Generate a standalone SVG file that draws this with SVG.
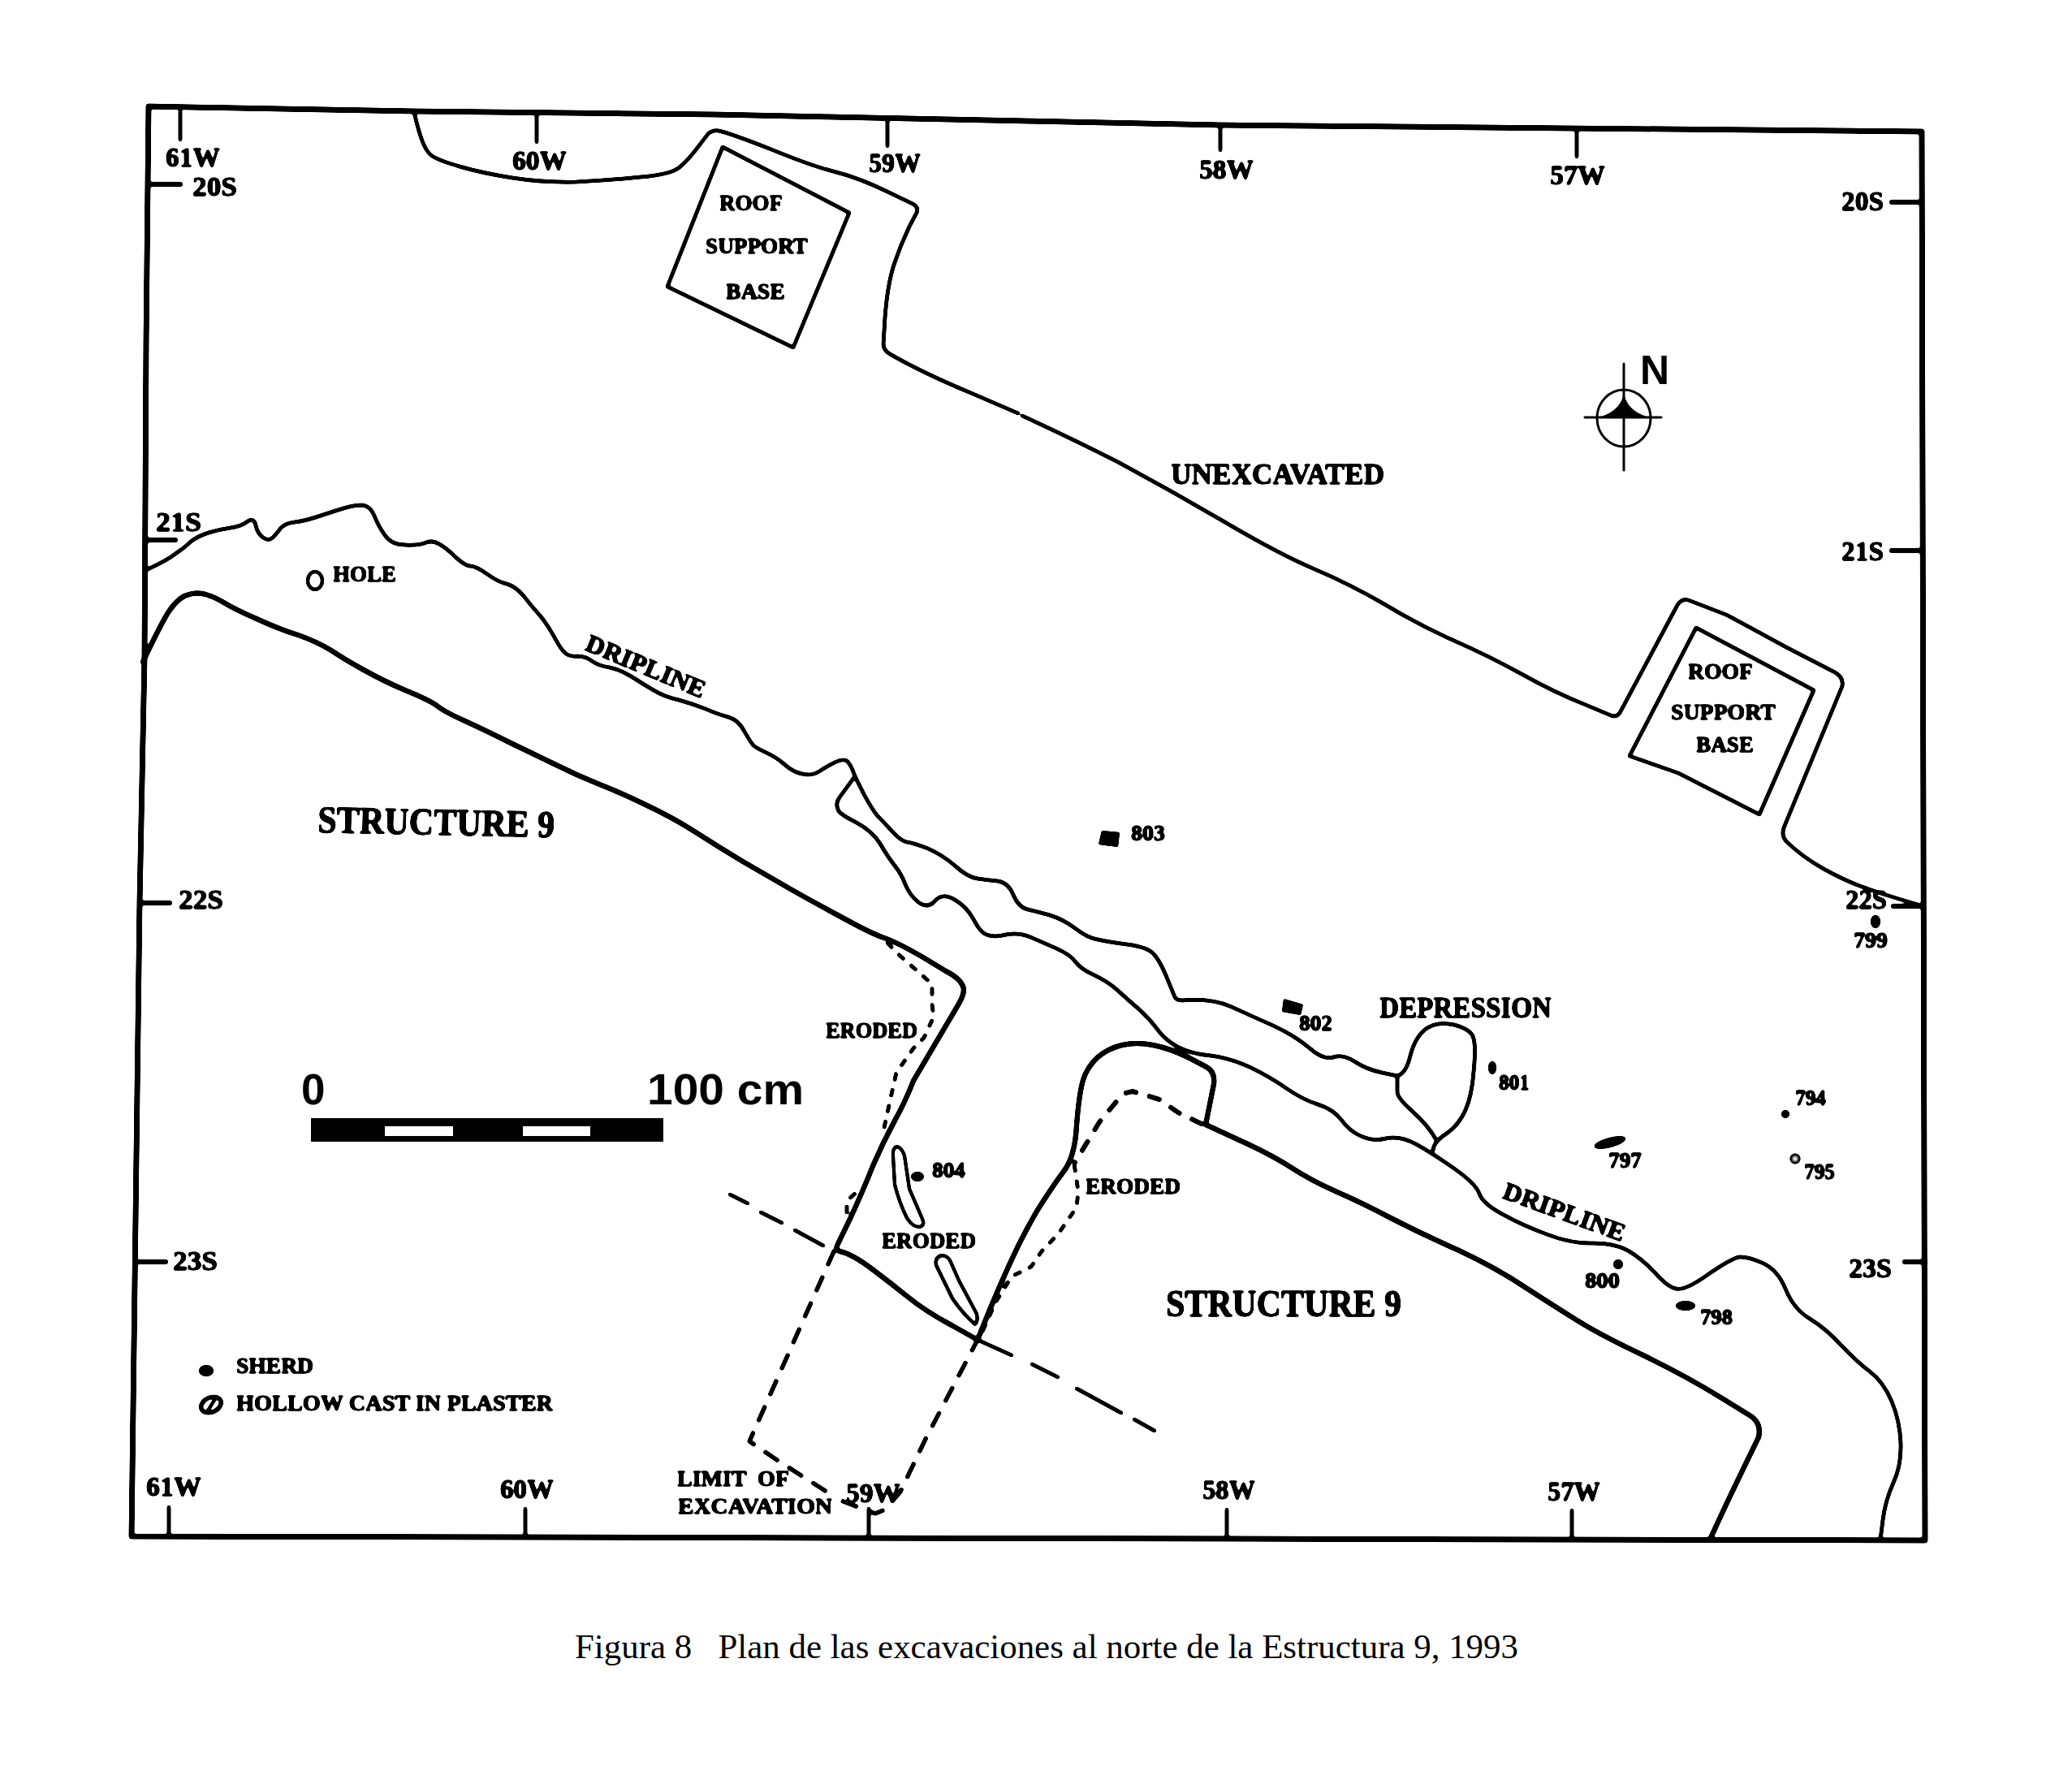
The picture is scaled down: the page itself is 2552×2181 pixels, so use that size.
<svg xmlns="http://www.w3.org/2000/svg" width="2552" height="2181" viewBox="0 0 2552 2181">
<style>
.l{fill:none;stroke:#000;stroke-linejoin:round;stroke-linecap:round}
.f{stroke-width:6.5}.t{stroke-width:6}.d{stroke-width:4.5}.k{stroke-width:4.5}
.dash{stroke-width:5;stroke-dasharray:22 13;stroke-linecap:butt}
.dash2{stroke-width:4.5;stroke-dasharray:11 9;stroke-linecap:butt}
.dash3{stroke-width:5.5;stroke-dasharray:18 12;stroke-linecap:butt}
text{font-family:"Liberation Serif",serif;font-weight:bold;fill:#000;stroke:#000;stroke-width:.9}
.g{font-size:34px}.s{font-size:28px}.m{font-size:31px}.n{font-size:27px}.b{font-size:47px}
.sans{font-family:"Liberation Sans",sans-serif;stroke:none}
.cap{font-weight:normal;font-size:43px;stroke:none}
</style>
<defs>
<filter id="ink" filterUnits="userSpaceOnUse" x="0" y="0" width="2552" height="2181">
<feGaussianBlur stdDeviation="1.2"/>
<feComponentTransfer><feFuncA type="linear" slope="5" intercept="-1.6"/></feComponentTransfer>
</filter>
</defs>
<rect width="2552" height="2181" fill="#fff"/>
<g filter="url(#ink)">
<g id="frame">
<polyline class="l f" points="183,131 510,137 880,141 1503,154 2367,162 2371,1897 162,1892 172,1111 178,810 180,422 183,131"/>
<path class="l k" d="M222 137V172M661 141V175M1093 146V180M1503 155V185M1942 161V193M208 1856V1892M647 1858V1894M1070 1858V1894M1511 1859V1894M1936 1860V1896"/>
<path class="l t" d="M185 227H222M181 665H216M175 1112H209M172 1554H204M2330 249H2367M2330 678H2367M2332 1116H2369M2346 1554H2371"/>
</g>
<g id="grid-labels" class="g">
<text x="204" y="205" textLength="67" lengthAdjust="spacingAndGlyphs">61W</text>
<text x="631" y="209" textLength="67" lengthAdjust="spacingAndGlyphs">60W</text>
<text x="1070" y="212" textLength="64" lengthAdjust="spacingAndGlyphs">59W</text>
<text x="1477" y="220" textLength="67" lengthAdjust="spacingAndGlyphs">58W</text>
<text x="1909" y="227" textLength="68" lengthAdjust="spacingAndGlyphs">57W</text>
<text x="237" y="241" textLength="55" lengthAdjust="spacingAndGlyphs">20S</text>
<text x="192" y="654" textLength="56" lengthAdjust="spacingAndGlyphs">21S</text>
<text x="220" y="1119" textLength="55" lengthAdjust="spacingAndGlyphs">22S</text>
<text x="213" y="1564" textLength="55" lengthAdjust="spacingAndGlyphs">23S</text>
<text x="2268" y="259" textLength="52" lengthAdjust="spacingAndGlyphs">20S</text>
<text x="2268" y="690" textLength="52" lengthAdjust="spacingAndGlyphs">21S</text>
<text x="2273" y="1119" textLength="51" lengthAdjust="spacingAndGlyphs">22S</text>
<text x="2277" y="1573" textLength="53" lengthAdjust="spacingAndGlyphs">23S</text>
<text x="180" y="1842" textLength="68" lengthAdjust="spacingAndGlyphs">61W</text>
<text x="616" y="1845" textLength="66" lengthAdjust="spacingAndGlyphs">60W</text>
<text x="1042" y="1850" textLength="67" lengthAdjust="spacingAndGlyphs">59W</text>
<text x="1481" y="1846" textLength="65" lengthAdjust="spacingAndGlyphs">58W</text>
<text x="1906" y="1848" textLength="65" lengthAdjust="spacingAndGlyphs">57W</text>
</g>
<g id="unexcavated">
<path class="l d" d="M510 138Q516 164 521 176Q526 188 532 192Q539 197 566 205Q593 213 631 219Q669 225 710 224Q752 222 789 218Q826 215 837 206Q848 197 862 178L872 165Q877 160 885 161Q899 164 950 184Q1001 205 1030 212Q1058 219 1095 237L1124 251Q1132 255 1129 262L1120 279Q1109 302 1101 326Q1093 351 1090 391L1088 424Q1088 431 1096 436Q1138 460 1196 484L1254 509"/>
<path class="l d" d="M1259 512Q1320 540 1377 569Q1442 604 1507 642Q1573 681 1617 700Q1662 719 1705 744Q1748 770 1791 789Q1834 808 1874 830Q1915 853 1953 868L1984 881Q1991 884 1995 878L2065 747Q2071 735 2082 740L2126 757Q2132 760 2200 797L2260 828Q2271 834 2269 845L2198 1017Q2193 1028 2200 1036Q2218 1054 2246 1070Q2275 1086 2299 1094Q2324 1103 2369 1116"/>
<text x="1442" y="596" textLength="263" lengthAdjust="spacingAndGlyphs" style="font-size:36px">UNEXCAVATED</text>
</g>
<g id="roof-support-base-1">
<polygon class="l d" points="890,181 1046,262 977,428 822,353"/>
<text class="s" x="886" y="259" textLength="78" lengthAdjust="spacingAndGlyphs">ROOF</text>
<text class="s" x="869" y="312" textLength="126" lengthAdjust="spacingAndGlyphs">SUPPORT</text>
<text class="s" x="894" y="368" textLength="73" lengthAdjust="spacingAndGlyphs">BASE</text>
</g>
<g id="roof-support-base-2">
<polygon class="l d" points="2089,773 2234,850 2167,1003 2067,952 2007,931"/>
<text class="s" x="2079" y="836" textLength="80" lengthAdjust="spacingAndGlyphs">ROOF</text>
<text class="s" x="2058" y="886" textLength="129" lengthAdjust="spacingAndGlyphs">SUPPORT</text>
<text class="s" x="2089" y="926" textLength="71" lengthAdjust="spacingAndGlyphs">BASE</text>
</g>
<g id="dripline">
<path class="l d" d="M182 701Q206 690 216 682Q227 675 235 667Q244 660 257 656Q270 652 284 650Q298 648 305 642Q313 637 315 647Q317 657 324 662Q331 667 336 662Q341 657 346 650Q352 644 363 643Q374 642 392 636Q410 630 423 626Q436 622 446 622Q456 623 461 635Q466 648 474 659Q482 671 499 671Q517 672 525 668Q533 665 541 670Q550 675 561 686Q573 697 579 697Q586 697 600 707Q614 717 624 719Q635 722 645 734Q655 747 665 758Q675 770 683 785Q691 800 696 804Q701 809 711 808Q721 808 729 814Q737 820 751 822Q765 825 779 834Q793 843 805 850Q818 858 836 862Q854 867 869 873Q885 880 897 883Q910 887 917 901Q925 915 928 918Q931 921 944 927Q957 933 967 942Q977 951 988 953Q1000 956 1009 950Q1018 944 1028 939Q1038 934 1043 937Q1048 941 1053 956L1064 978Q1076 1000 1082 1006Q1089 1013 1099 1024Q1110 1036 1117 1037Q1125 1038 1143 1045Q1161 1053 1176 1066Q1191 1080 1204 1082Q1217 1084 1229 1085Q1242 1087 1248 1102Q1255 1118 1266 1120Q1278 1123 1293 1127Q1309 1132 1324 1143Q1339 1155 1352 1157Q1365 1160 1388 1163Q1411 1166 1419 1173Q1428 1181 1438 1206L1447 1228Q1449 1232 1456 1232Q1492 1229 1517 1240Q1543 1252 1568 1263Q1594 1275 1612 1290Q1630 1306 1642 1302Q1654 1298 1668 1307Q1683 1317 1702 1321L1721 1325"/>
<path class="l d" d="M1053 956L1034 982Q1028 990 1033 999Q1037 1004 1053 1012Q1074 1023 1084 1039Q1094 1056 1102 1066Q1110 1076 1115 1089Q1120 1102 1131 1111Q1143 1120 1152 1109Q1161 1099 1176 1108Q1191 1117 1199 1132Q1207 1148 1215 1151Q1224 1155 1239 1151Q1255 1148 1269 1154Q1283 1160 1301 1168Q1319 1176 1325 1185Q1332 1194 1348 1201Q1365 1209 1377 1220Q1390 1232 1403 1243Q1416 1255 1425 1267Q1434 1280 1450 1289Q1467 1298 1491 1300Q1515 1303 1539 1314Q1564 1326 1584 1340Q1604 1354 1623 1360Q1642 1366 1652 1379Q1662 1393 1676 1399Q1691 1406 1707 1402Q1724 1398 1744 1409Q1764 1420 1791 1439Q1818 1458 1822 1470Q1826 1482 1850 1495Q1875 1509 1905 1520Q1936 1532 1962 1531Q1989 1531 2005 1540Q2022 1550 2038 1567Q2054 1585 2064 1587Q2075 1590 2103 1570Q2132 1550 2142 1548Q2152 1547 2170 1555Q2189 1563 2199 1587Q2209 1612 2229 1624Q2250 1637 2268 1657Q2287 1677 2303 1689Q2320 1702 2330 1726Q2340 1750 2341 1777Q2342 1805 2332 1826Q2322 1848 2319 1872L2316 1896"/>
<text class="m" transform="translate(719,800) rotate(22.5)" textLength="157" lengthAdjust="spacingAndGlyphs">DRIPLINE</text>
<text class="m" transform="translate(1849,1475) rotate(20)" textLength="158" lengthAdjust="spacingAndGlyphs">DRIPLINE</text>
</g>
<g id="depression">
<path class="l d" d="M1721 1325Q1732 1322 1737 1300Q1742 1279 1755 1268Q1769 1257 1791 1262Q1813 1268 1815 1279Q1818 1290 1815 1320Q1813 1349 1805 1367Q1797 1385 1783 1395Q1769 1404 1766 1412L1764 1420"/>
<path class="l d" d="M1721 1325L1721 1345Q1721 1352 1740 1369Q1760 1387 1769 1404"/>
<text x="1699" y="1253" textLength="212" lengthAdjust="spacingAndGlyphs" style="font-size:36px">DEPRESSION</text>
</g>
<g id="structure-9-west">
<path class="l t" d="M176 815Q196 773 206 756Q216 740 227 734Q239 729 249 731Q260 733 274 741Q288 750 316 762Q344 775 367 782Q390 790 408 801Q426 813 448 825Q471 838 499 850Q528 862 538 869Q548 877 573 888Q599 900 629 915Q660 930 685 942Q711 955 736 965Q762 975 795 991Q829 1007 857 1025Q885 1043 915 1061Q946 1079 979 1098Q1013 1117 1043 1133Q1074 1150 1089 1155Q1104 1160 1137 1179L1165 1196Q1185 1206 1187 1218Q1187 1226 1181 1236L1125 1331Q1115 1357 1101 1382Q1087 1408 1075 1436Q1064 1464 1047 1501L1031 1534Q1029 1539 1034 1541Q1049 1544 1073 1562Q1097 1580 1118 1597Q1140 1615 1172 1632L1204 1650"/>
<text class="b" transform="translate(391,1025) rotate(1.2)" textLength="292" lengthAdjust="spacingAndGlyphs">STRUCTURE 9</text>
</g>
<g id="structure-9-east">
<path class="l t" d="M1204 1650L1219 1613Q1234 1577 1248 1547Q1262 1517 1278 1490Q1295 1463 1309 1444Q1324 1426 1326 1386Q1329 1347 1334 1330Q1339 1314 1352 1302Q1365 1291 1382 1287Q1400 1283 1420 1287Q1441 1291 1465 1303L1486 1314Q1497 1320 1495 1335L1485 1385L1524 1403Q1564 1421 1589 1437Q1615 1454 1647 1468Q1679 1482 1715 1501Q1752 1520 1797 1540Q1842 1561 1878 1585Q1915 1609 1944 1627Q1973 1645 2026 1670Q2079 1696 2121 1722L2155 1743Q2170 1752 2166 1770Q2144 1815 2125 1855L2106 1896"/>
<text class="b" x="1436" y="1621" textLength="290" lengthAdjust="spacingAndGlyphs">STRUCTURE 9</text>
</g>
<g id="excavation-limit">
<polyline class="l dash" points="1028,1539 923,1775 960,1800 1026,1842"/>
<polyline class="l dash" points="1036,1848 1078,1864 1090,1859 1109,1837 1140,1772 1204,1650"/>
<path class="l" style="stroke-width:4.5" d="M899 1471L921 1482M937 1493L963 1506M979 1515L1014 1534M1204 1650L1246 1669M1271 1680L1303 1696M1326 1710L1381 1740M1397 1748L1422 1762"/>
<text class="n" x="834" y="1830" textLength="138" lengthAdjust="spacingAndGlyphs" xml:space="preserve">LIMIT  OF</text>
<text class="n" x="835" y="1864" textLength="190" lengthAdjust="spacingAndGlyphs">EXCAVATION</text>
</g>
<g id="eroded-west">
<polyline class="l dash2" points="1092,1160 1104,1173 1130,1196 1148,1212 1148,1237 1150,1252 1138,1278 1125,1291 1104,1321 1097,1352 1087,1398"/>
<polyline class="l dash2" points="1043,1495 1043,1479 1056,1467"/>
<text class="n" x="1017" y="1278" textLength="113" lengthAdjust="spacingAndGlyphs">ERODED</text>
</g>
<g id="eroded-east">
<polyline class="l dash3" points="1482,1385 1451,1370 1428,1354 1395,1344 1383,1347 1354,1382 1337,1410 1323,1433"/>
<polyline class="l dash2" points="1323,1433 1328,1467 1326,1487 1303,1520 1283,1541 1270,1560 1246,1572 1226,1604 1209,1642"/>
<text class="n" x="1337" y="1470" textLength="117" lengthAdjust="spacingAndGlyphs">ERODED</text>
</g>
<g id="hollow-casts">
<path class="l" style="stroke-width:4" d="M1104 1412Q1099 1414 1100 1424L1102 1459Q1108 1482 1117 1500Q1124 1511 1132 1511Q1140 1510 1136 1501L1120 1464L1114 1423Q1110 1412 1104 1412Z"/>
<path class="l" style="stroke-width:4" d="M1160 1546Q1151 1548 1153 1558L1173 1599Q1186 1618 1201 1631Q1205 1628 1203 1618L1181 1577L1170 1552Q1166 1546 1160 1546Z"/>
<text class="n" x="1086" y="1537" textLength="116" lengthAdjust="spacingAndGlyphs">ERODED</text>
</g>
<g id="hole">
<ellipse class="l" style="stroke-width:4" cx="388" cy="715" rx="9" ry="11"/>
<text class="n" x="410" y="716" textLength="78" lengthAdjust="spacingAndGlyphs">HOLE</text>
</g>
<g id="sherds" class="n">
<polygon points="1357,1023 1379,1025 1377,1043 1353,1040"/><text x="1393" y="1035" textLength="42" lengthAdjust="spacingAndGlyphs">803</text>
<polygon points="1581,1230 1605,1237 1602,1250 1579,1246"/><text x="1600" y="1269" textLength="41" lengthAdjust="spacingAndGlyphs">802</text>
<ellipse cx="1130" cy="1449" rx="8" ry="6"/><text x="1148" y="1450" textLength="41" lengthAdjust="spacingAndGlyphs">804</text>
<ellipse cx="1838" cy="1315" rx="5" ry="8"/><text x="1846" y="1342" textLength="38" lengthAdjust="spacingAndGlyphs">801</text>
<circle cx="2199" cy="1372" r="5"/><text x="2211" y="1361" textLength="38" lengthAdjust="spacingAndGlyphs">794</text>
<circle cx="2211" cy="1427" r="4.5" fill="#fff" stroke="#000" stroke-width="4"/><text x="2222" y="1452" textLength="38" lengthAdjust="spacingAndGlyphs">795</text>
<ellipse cx="1983" cy="1407" rx="20" ry="6" transform="rotate(-15 1983 1407)"/><text x="1981" y="1438" textLength="41" lengthAdjust="spacingAndGlyphs">797</text>
<circle cx="1993" cy="1557" r="6"/><text x="1952" y="1586" textLength="43" lengthAdjust="spacingAndGlyphs">800</text>
<ellipse cx="2076" cy="1608" rx="12" ry="6"/><text x="2094" y="1631" textLength="40" lengthAdjust="spacingAndGlyphs">798</text>
<ellipse cx="2310" cy="1135" rx="6" ry="8"/><text x="2283" y="1167" textLength="42" lengthAdjust="spacingAndGlyphs">799</text>
</g>
<g id="legend" class="n">
<ellipse cx="254" cy="1688" rx="9" ry="7"/>
<text x="291" y="1691" textLength="95" lengthAdjust="spacingAndGlyphs">SHERD</text>
<ellipse cx="260" cy="1730" rx="13" ry="9" fill="none" stroke="#000" stroke-width="5" transform="rotate(-25 260 1730)"/>
<path d="M255 1739L266 1721" stroke="#000" stroke-width="4"/>
<text x="291" y="1737" textLength="390" lengthAdjust="spacingAndGlyphs">HOLLOW CAST IN PLASTER</text>
</g>
</g>
<g id="north">
<ellipse class="l" style="stroke-width:3" cx="2000" cy="515" rx="33" ry="35"/>
<path class="l" style="stroke-width:3" d="M2000 448V579M1952 514H2046"/>
<path d="M2000 483Q2003 506 2031 514H1969Q1997 506 2000 483Z"/>
<text class="sans" x="2020" y="473" style="font-size:50px">N</text>
</g>
<g id="scale-bar">
<rect x="383" y="1377" width="434" height="29"/>
<rect x="474" y="1387" width="84" height="12" fill="#fff"/>
<rect x="644" y="1387" width="83" height="12" fill="#fff"/>
<text class="sans" x="371" y="1360" style="font-size:53px">0</text>
<text class="sans" x="797" y="1360" textLength="193" lengthAdjust="spacingAndGlyphs" style="font-size:53px">100 cm</text>
</g>
<g id="caption">
<text class="cap" x="708" y="2042" textLength="1162" lengthAdjust="spacingAndGlyphs" xml:space="preserve">Figura 8   Plan de las excavaciones al norte de la Estructura 9, 1993</text>
</g>
</svg>
